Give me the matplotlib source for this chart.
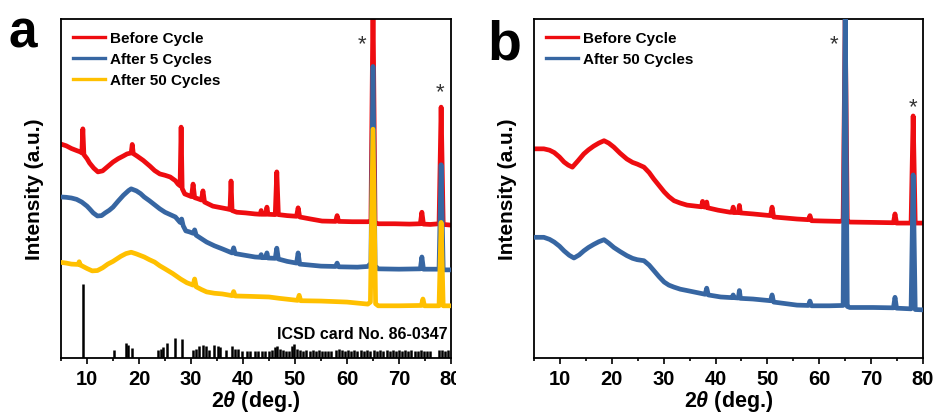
import numpy as np
import matplotlib
matplotlib.use("Agg")
import matplotlib.pyplot as plt
from matplotlib.transforms import Bbox, TransformedBbox

plt.rcParams["font.family"] = ["Liberation Sans", "DejaVu Sans"]
plt.rcParams["font.weight"] = "bold"
plt.rcParams["mathtext.fontset"] = "custom"
plt.rcParams["mathtext.rm"] = "Liberation Sans:bold"
plt.rcParams["mathtext.it"] = "Liberation Sans:italic:bold"
plt.rcParams["mathtext.bf"] = "Liberation Sans:bold"

RED = "#ee0c10"
BLUE = "#3766a2"
YELLOW = "#ffc000"

# ---- panel a: XRD traces (2theta in deg, intensity in a.u.) ----
red_a_x = [5, 6, 7, 8, 8.7, 9.0, 9.2, 9.4, 10.0, 10.5, 11.3, 12.1, 13, 14, 15, 16, 17,
           17.7, 18.5, 18.7, 18.9, 19.6, 20.8, 22.1, 23, 24, 25, 26, 27, 27.5, 27.9,
           28.1, 28.3, 28.8, 30.1, 30.4, 30.7, 31.3, 32.0, 32.3, 32.6, 34.2, 36.9,
           37.5, 37.7, 37.9, 38.8, 40.5, 42.3, 43.3, 43.5, 43.7, 44.4, 44.6, 44.8, 46.2,
           46.5, 46.8, 48.5, 50.3, 50.6, 50.9, 53, 55.2, 57.8, 58.1, 58.4, 61, 64.0,
           64.6, 65.0, 65.4, 66, 69.2, 72, 74.1, 74.4, 74.7, 76, 77.7, 78.1, 78.5, 80]
red_a_y = [63.1, 62.6, 61.8, 61.2, 60.8, 60.5, 67.6, 60.0, 58.8, 57.5, 56.0, 54.9, 55.2,
           56.5, 57.8, 58.8, 59.6, 60.2, 60.5, 63.0, 60.3, 59.6, 58.3, 56.6, 55.3,
           54.3, 53.9, 53.4, 52.3, 51.3, 50.8, 68.1, 50.0, 48.4, 47.6, 51.3, 47.3,
           47.0, 46.6, 49.3, 46.0, 44.8, 44.0, 43.8, 52.2, 43.5, 43.0, 42.8, 42.5,
           42.4, 43.5, 42.4, 42.4, 44.5, 42.4, 42.3, 54.9, 42.3, 42.0, 41.8, 44.3,
           41.6, 41.0, 40.4, 40.3, 42.0, 40.3, 40.2, 40.2, 40.4, 105, 40.0, 39.6, 39.6,
           39.5, 39.6, 43.0, 39.5, 39.4, 39.6, 74.0, 39.4, 39.2]

blue_a_x = [5, 6, 7, 8, 9, 10, 10.5, 11.2, 12, 12.8, 13.5, 14.3, 15, 16, 17, 18, 18.5,
            19.5, 20.3, 21, 22, 23, 24, 25, 26, 27, 27.9, 28.2, 28.5, 29, 29.7, 30.4,
            30.7, 31.0, 32, 33, 34.5, 36, 37.9, 38.2, 38.5, 40, 42.3, 43.3, 43.5, 43.7,
            44.4, 44.6, 44.8, 46.2, 46.5, 46.8, 48.5, 50.3, 50.6, 50.9, 55, 57.8, 58.1,
            58.4, 62, 64.0, 64.6, 65.0, 65.4, 66, 70, 74.1, 74.4, 74.7, 77.7, 78.1,
            78.5, 80]
blue_a_y = [47.5, 47.4, 47.2, 46.8, 46.0, 44.8, 44.0, 42.8, 41.9, 42.0, 42.8, 43.6, 44.5,
            46.3, 48.0, 49.4, 49.9, 49.3, 48.5, 47.5, 46.4, 45.2, 44.0, 43.0, 42.3,
            41.6, 40.0, 41.0, 39.0, 37.5, 37.2, 36.8, 37.8, 36.2, 35.2, 34.2, 33.1,
            32.2, 31.0, 32.5, 30.8, 30.4, 29.8, 29.7, 30.5, 29.6, 29.6, 31.0, 29.5,
            29.4, 32.4, 29.2, 28.5, 28.0, 31.0, 27.7, 27.1, 27.0, 28.0, 26.9, 26.8,
            27.0, 28.0, 86.0, 27.2, 26.3, 26.2, 26.3, 29.8, 26.2, 26.2, 57.0, 26.0, 26.0]

yellow_a_x = [5, 6, 7, 8.3, 8.5, 8.7, 9, 10, 11, 12, 13, 14, 15, 16.5, 17.5, 18.5, 19.5,
              21, 22, 23, 24, 25, 26.5, 28, 29.2, 30.4, 30.7, 31.0, 32, 33, 34.5, 36,
              37.9, 38.2, 38.5, 41, 45, 47, 50.5, 50.8, 51.1, 55, 60, 64, 64.5, 65.0,
              65.5, 66, 70, 74.3, 74.6, 74.9, 77.7, 78.1, 78.5, 80]
yellow_a_y = [28.2, 28.0, 27.7, 27.6, 28.4, 27.4, 27.2, 26.4, 25.7, 25.8, 26.6, 27.7, 28.5,
              30.0, 30.8, 31.2, 30.7, 29.8, 29.0, 28.3, 27.2, 26.3, 24.9, 23.3, 22.2,
              21.5, 23.3, 21.0, 20.2, 19.5, 19.1, 18.9, 18.4, 19.6, 18.3, 18.2, 18.0,
              17.6, 17.0, 18.5, 16.9, 16.8, 16.5, 15.9, 16.5, 67.5, 16.0, 15.4, 15.4,
              15.5, 17.4, 15.4, 15.4, 40.0, 15.4, 15.4]

# reference pattern sticks (ICSD 86-0347)
ref_pos = [9.2, 15.2, 17.5, 17.9, 18.7, 23.7, 24.3, 24.7, 25.4, 26.9, 28.2, 30.4, 30.9,
           31.6, 32.3, 32.8, 33.5, 34.5, 35.1, 35.6, 36.7, 37.8, 38.4, 39.0, 39.8, 40.8,
           41.4, 42.3, 42.9, 43.6, 44.2, 45.0, 45.6, 46.2, 46.6, 47.1, 47.6, 48.2, 48.8,
           49.5, 49.9, 50.4, 51.0, 51.6, 52.1, 52.8, 53.4, 54.0, 54.6, 55.2, 55.8, 56.4,
           57.0, 57.9, 58.5, 59.0, 59.6, 60.2, 60.8, 61.4, 62.0, 62.6, 63.2, 63.8, 64.5,
           65.1, 65.8, 66.4, 67.0, 67.6, 68.2, 68.8, 69.4, 70.0, 70.6, 71.2, 71.8, 72.4,
           73.0, 73.6, 74.2, 74.8, 75.4, 76.0, 77.6, 78.2, 78.8, 79.4]
ref_int = [21.8, 2.4, 4.3, 3.8, 3.0, 2.4, 2.7, 3.2, 4.5, 6.0, 5.5, 2.4, 2.6, 3.5, 3.9,
           3.6, 2.4, 3.8, 3.6, 3.3, 2.4, 3.6, 2.7, 2.7, 2.0, 2.0, 2.1, 2.0, 2.0, 2.1,
           2.0, 2.2, 2.5, 3.2, 3.4, 2.6, 2.4, 2.2, 2.1, 3.6, 4.0, 2.6, 2.4, 2.2, 2.4,
           2.2, 2.3, 2.2, 2.4, 2.2, 2.0, 2.1, 2.0, 2.5, 2.6, 2.4, 2.2, 2.3, 2.1, 2.5,
           2.2, 2.4, 2.2, 2.3, 2.2, 2.4, 2.1, 2.3, 2.2, 2.4, 2.1, 2.3, 2.2, 2.4, 2.1,
           2.3, 2.2, 2.3, 2.1, 2.2, 2.3, 2.1, 2.2, 2.0, 2.3, 2.4, 2.2, 2.3]

# ---- panel b ----
red_b_x = [5, 6.9, 8.0, 8.9, 9.9, 10.8, 11.6, 12.4, 13.5, 14.6, 15.5, 16.5, 17.5, 18.5,
           19.4, 20.4, 21.6, 22.9, 24.0, 24.9, 26.2, 27.2, 28.1, 29.1, 30.1, 31.0, 32,
           33.2, 34.5, 37.3, 37.5, 37.7, 38.1, 38.3, 38.5, 40.5, 42.8, 43.2, 43.4, 43.6,
           44.4, 44.6, 44.8, 47.2, 50.6, 50.9, 51.2, 55.7, 57.9, 58.2, 58.5, 61, 64,
           64.6, 65.0, 65.4, 65.9, 70.4, 74.3, 74.6, 74.9, 77.7, 78.1, 78.5, 80]
red_b_y = [61.7, 61.7, 61.3, 60.6, 59.3, 57.8, 56.9, 56.3, 58.2, 60.2, 61.4, 62.5, 63.4,
           64.1, 63.4, 62.2, 60.4, 58.7, 57.7, 57.2, 56.3, 54.7, 52.8, 50.9, 49.0,
           47.6, 46.4, 45.7, 45.1, 44.6, 46.2, 44.6, 44.5, 46.0, 44.3, 43.6, 43.0,
           43.0, 44.5, 42.9, 42.9, 45.0, 42.8, 42.5, 42.0, 44.5, 41.6, 41.0, 40.8,
           42.0, 40.5, 40.4, 40.3, 40.6, 100, 40.4, 40.1, 40.0, 39.9, 42.5, 39.8,
           39.8, 71.4, 39.8, 39.8]

blue_b_x = [5, 6.9, 8.0, 8.9, 9.9, 10.8, 11.8, 12.7, 13.7, 14.6, 15.5, 16.5, 17.5, 18.5,
            19.4, 20.4, 21.6, 22.9, 24.0, 24.9, 26.2, 27.2, 28.1, 29.1, 30.1, 31.0, 32,
            33.2, 34.5, 38.0, 38.3, 38.6, 41, 43.2, 43.4, 43.6, 44.4, 44.6, 44.8, 47.2,
            50.6, 50.9, 51.2, 55.7, 57.9, 58.2, 58.5, 62, 64.6, 65.0, 65.4, 65.9, 70.4,
            74.3, 74.6, 74.9, 77.7, 78.1, 78.5, 80]
blue_b_y = [35.6, 35.6, 35.0, 34.2, 33.0, 31.6, 30.3, 29.5, 30.4, 31.6, 32.6, 33.5, 34.3,
            34.9, 33.9, 32.6, 31.4, 30.2, 29.4, 29.0, 28.7, 27.4, 25.8, 24.0, 22.4,
            21.5, 20.9, 20.3, 19.9, 18.8, 20.6, 18.6, 18.0, 17.8, 18.6, 17.8, 17.7,
            19.9, 17.6, 17.4, 16.9, 18.6, 16.5, 15.6, 15.5, 16.8, 15.4, 15.4, 15.5,
            105, 15.2, 14.9, 14.9, 14.8, 17.9, 14.7, 14.5, 54.0, 14.3, 14.2]

W, H = 939, 414
fig = plt.figure(figsize=(W / 100, H / 100), dpi=100)
ax_a = fig.add_axes([61 / W, 1 - 359 / H, 390 / W, 339 / H])
ax_b = fig.add_axes([534 / W, 1 - 359 / H, 389 / W, 339 / H])


def style_axis(ax):
    ax.set_xlim(5, 80)
    ax.set_ylim(0, 100)
    ax.set_yticks([])
    ax.set_xticks(range(10, 81, 10))
    ax.set_xticks(range(5, 80, 10), minor=True)
    ax.tick_params(axis="x", which="major", direction="out", length=4, width=1.2,
                   labelsize=14.5, pad=4)
    ax.tick_params(axis="x", which="minor", direction="out", length=2.5, width=1.2)
    for s in ax.spines.values():
        s.set_linewidth(1.3)
    ax.set_xlabel(r"2$\mathit{\theta}$ (deg.)", fontsize=15.5, fontweight="bold", labelpad=0)
    ax.set_ylabel("Intensity (a.u.)", fontsize=15, fontweight="bold", labelpad=12)


lw = 3.4
ax_a.plot(red_a_x, red_a_y, color=RED, lw=lw, label="Before Cycle", zorder=2)
ax_a.plot(blue_a_x, blue_a_y, color=BLUE, lw=lw, label="After 5 Cycles", zorder=3)
ax_a.plot(yellow_a_x, yellow_a_y, color=YELLOW, lw=lw, label="After 50 Cycles", zorder=4)
ax_a.vlines(ref_pos, 0, ref_int, color="black", lw=1.8)
ax_a.text(79.4, 5.0, "ICSD card No. 86-0347", ha="right", va="bottom", fontsize=11.5,
          fontweight="bold")
style_axis(ax_a)

ax_b.plot(red_b_x, red_b_y, color=RED, lw=lw, label="Before Cycle", zorder=2)
ax_b.plot(blue_b_x, blue_b_y, color=BLUE, lw=lw, label="After 50 Cycles", zorder=3)
style_axis(ax_b)

for ax in (ax_a, ax_b):
    leg = ax.legend(loc="upper left", frameon=False, fontsize=11, handlelength=2.1,
                    handletextpad=0.3, labelspacing=0.45, borderaxespad=0.5,
                    borderpad=0.3)
    for h in leg.get_lines():
        h.set_linewidth(2.4)

# asterisks marking current-collector peaks
for ax, pts in ((ax_a, [(62.9, 92.6), (77.9, 78.5)]), (ax_b, [(62.8, 92.6), (78.1, 74.0)])):
    for px, py in pts:
        ax.text(px, py, "*", ha="center", va="center", fontsize=16, color="#333333",
                fontweight="normal")

# panel labels
fig.text(8 / W, 1 - 47 / H, "a", fontsize=37, fontweight="bold", va="baseline")
fig.text(487 / W, 1 - 60 / H, "b", fontsize=40, fontweight="bold", va="baseline")

# the right "80" label of panel a is cut off in the original figure
clip = TransformedBbox(Bbox([[0, 0], [456 / W, 1]]), fig.transFigure)
for lab in ax_a.get_xticklabels():
    lab.set_clip_box(clip)
    lab.set_clip_on(True)

fig.savefig("out.png", dpi=100)
